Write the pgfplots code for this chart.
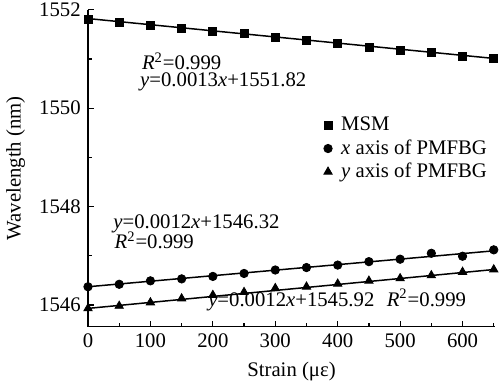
\documentclass[border=0pt]{standalone}
\usepackage{fontspec}
\setmainfont{Liberation Serif}
\usepackage{pgfplots}
\pgfplotsset{compat=1.18}
\begin{document}
\fontsize{10.4}{12}\selectfont
\begin{tikzpicture}
\begin{axis}[name=ax, scale only axis, width=203.5bp, height=158.6bp,
  xmin=0, xmax=652, ymin=1545.554, ymax=1552,
  axis x line*=bottom, axis y line*=left,
  axis line style={line width=0.6pt},
  xtick={0,100,...,600}, minor xtick={50,150,...,650},
  ytick={1546,1548,1550,1552}, yticklabels={1546,1548,1550,1552},
  minor ytick={1547,1549,1551},
  tick align=inside, major tick length=3bp, minor tick length=2bp,
  every tick/.style={black, line width=0.6pt},
  /pgf/number format/assume math mode=true,
  /pgf/number format/1000 sep={},
  ticklabel style={font=\fontsize{10.4}{12}\selectfont},
  xlabel={Strain (με)}, ylabel={Wavelength (nm)},
  label style={font=\fontsize{10.4}{12}\selectfont},
  clip=false,
  legend style={draw=none, fill=none, at={(axis cs:510,1549.17)}, anchor=center,
    nodes={inner sep=1bp}, row sep=0.8bp, font=\fontsize{10.4}{12}\selectfont,
    /tikz/every odd column/.append style={column sep=3.5bp}},
  legend cell align=left,
  legend image code/.code={\draw[mark repeat=2,mark phase=2,#1] plot coordinates {(0cm,0cm)(0.15cm,0cm)(0.4cm,0cm)};},
]
\addplot[black, only marks, mark=square*, mark size=2bp] coordinates {
(0,1551.81)(50,1551.75)(100,1551.69)(150,1551.62)(200,1551.56)(250,1551.51)(300,1551.44)
(350,1551.37)(400,1551.31)(450,1551.24)(500,1551.18)(550,1551.13)(600,1551.06)(650,1551.01)};
\addlegendentry{MSM}
\addplot[black, only marks, mark=*, mark size=2.1bp] coordinates {
(0,1546.37)(50,1546.42)(100,1546.49)(150,1546.53)(200,1546.58)(250,1546.64)(300,1546.71)
(350,1546.76)(400,1546.81)(450,1546.88)(500,1546.93)(550,1547.05)(600,1546.99)(650,1547.12)};
\addlegendentry{\textit{x} axis of PMFBG}
\addplot[black, only marks, mark=triangle*, mark size=2.4bp] coordinates {
(0,1545.93)(50,1545.98)(100,1546.05)(150,1546.13)(200,1546.20)(250,1546.26)(300,1546.34)
(350,1546.37)(400,1546.43)(450,1546.49)(500,1546.54)(550,1546.60)(600,1546.67)(650,1546.72)};
\addlegendentry{\textit{y} axis of PMFBG}
\addplot[black, line width=0.75pt, forget plot] coordinates {(0,1551.82)(650,1551.01)};
\addplot[black, line width=0.75pt, forget plot] coordinates {(0,1546.37)(650,1547.10)};
\addplot[black, line width=0.75pt, forget plot] coordinates {(0,1545.93)(650,1546.72)};
\node[anchor=base west, inner sep=0pt] at (axis cs:86,1550.79) {\textit{R}\textsuperscript{2}=0.999};
\node[anchor=base west, inner sep=0pt] at (axis cs:83,1550.43) {\textit{y}=0.0013\textit{x}+1551.82};
\node[anchor=base west, inner sep=0pt] at (axis cs:40,1547.56) {\textit{y}=0.0012\textit{x}+1546.32};
\node[anchor=base west, inner sep=0pt] at (axis cs:42,1547.14) {\textit{R}\textsuperscript{2}=0.999};
\node[anchor=base west, inner sep=0pt] at (axis cs:192,1545.976) {\textit{y}=0.0012\textit{x}+1545.92\hspace{0.6em}\textit{R}\textsuperscript{2}=0.999};
\end{axis}
\pgfresetboundingbox
\path ([shift={(-44bp,-27bp)}]ax.south west) rectangle ([shift={(2.5bp,4.85bp)}]ax.north east);
\end{tikzpicture}
\end{document}
